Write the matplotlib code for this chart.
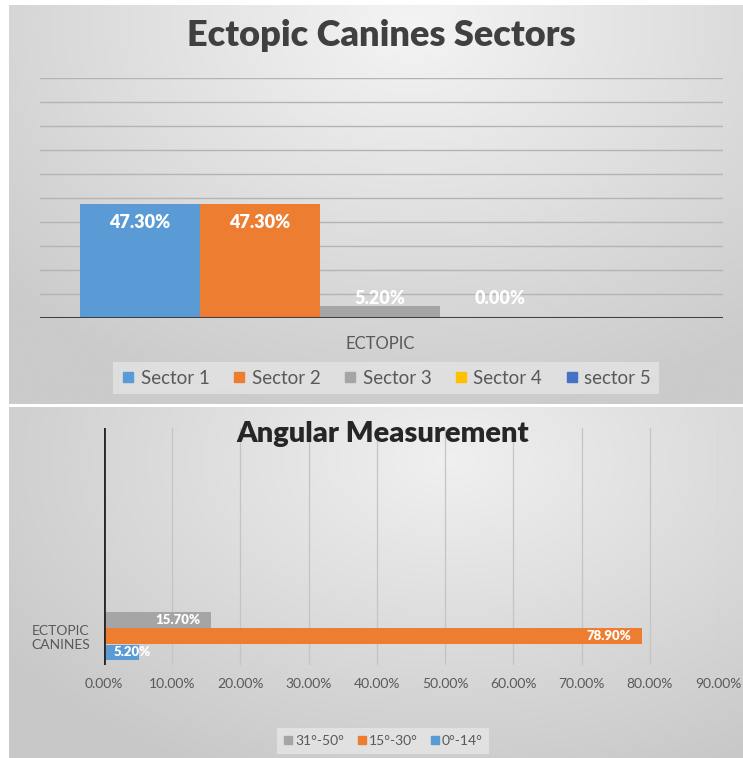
import numpy as np
import matplotlib.pyplot as plt
from matplotlib.lines import Line2D

plt.rcParams['font.family'] = ['Lato', 'DejaVu Sans']

# top chart data
sectors = ["Sector 1", "Sector 2", "Sector 3", "Sector 4", "sector 5"]
sector_values = [47.3, 47.3, 5.2, 0.0, None]
sector_colors = ["#5B9BD5", "#ED7D31", "#A5A5A5", "#FFC000", "#4472C4"]
top_category = "ECTOPIC"

# bottom chart data
angle_groups = ["0°-14°", "15°-30°", "31°-50°"]
angle_values = [5.2, 78.9, 15.7]
angle_colors = ["#5B9BD5", "#ED7D31", "#A5A5A5"]
bottom_category = "ECTOPIC\nCANINES"
x_ticks = [0, 10, 20, 30, 40, 50, 60, 70, 80, 90]

W, H = 743, 758
fig = plt.figure(figsize=(W / 100, H / 100), dpi=100, facecolor="white")


def px(x0, y0, x1, y1):
    # pixel box (top-left origin) -> figure fraction rect
    return [x0 / W, 1 - y1 / H, (x1 - x0) / W, (y1 - y0) / H]


def gradient_panel(rect, cx, cy, light=244, dark=203):
    bg = fig.add_axes(rect, zorder=-10)
    yy, xx = np.mgrid[0:1:200j, 0:1:200j]
    d = np.sqrt(((xx - cx) / 0.75) ** 2 + ((yy - cy) / 1.0) ** 2)
    v = (light - (light - dark) * np.clip(d, 0, 1)) / 255
    bg.imshow(np.dstack([v, v, v]), extent=[0, 1, 0, 1], aspect="auto", origin="upper")
    bg.axis("off")


gradient_panel(px(9, 5, 743, 404), 0.55, 0.05)
gradient_panel(px(9, 407, 743, 758), 0.6, 0.15, light=240, dark=200)

# ---------- top: Ectopic Canines Sectors ----------
ax = fig.add_axes(px(40, 78, 723, 318))
ax.patch.set_alpha(0)
for i, (val, col) in enumerate(zip(sector_values, sector_colors)):
    if val is None:
        continue
    ax.bar(i, val, width=1.0, color=col, zorder=3)
    if val > 20:
        ax.annotate(f"{val:.2f}%", (i, val), xytext=(0, -13), textcoords="offset points",
                    ha="center", va="center", color="white", fontsize=13, fontweight="heavy", zorder=4)
    else:
        ax.annotate(f"{val:.2f}%", (i, 0), xytext=(0, 14), textcoords="offset points",
                    ha="center", va="center", color="white", fontsize=13, fontweight="heavy", zorder=4)
ax.set_xlim(-0.83, 4.85)
ax.set_ylim(0, 100)
ax.set_yticks(np.arange(10, 101, 10))
ax.yaxis.grid(True, color="#b4b4b4", linewidth=1)
ax.set_axisbelow(True)
ax.axhline(0, color="#404040", linewidth=2.2, zorder=5)
ax.set_xticks([2])
ax.set_xticklabels([top_category], fontsize=12, color="#595959")
ax.tick_params(axis="x", length=0, pad=13)
ax.tick_params(axis="y", length=0, labelleft=False)
for s in ax.spines.values():
    s.set_visible(False)

fig.text(381 / W, 1 - 35 / H, "Ectopic Canines Sectors", ha="center", va="center",
         fontsize=26, fontweight="heavy", color="#404040")

handles = [Line2D([], [], marker="s", linestyle="none", markersize=7, color=c) for c in sector_colors]
leg = fig.legend(handles, sectors, loc="center", bbox_to_anchor=(386 / W, 1 - 378 / H), ncol=5,
                 frameon=True, fontsize=13.5, handlelength=0.8, handletextpad=0.25, columnspacing=1.2,
                 borderpad=0.4, fancybox=False)
leg.get_frame().set_facecolor("#e4e4e4")
leg.get_frame().set_edgecolor("none")
for t in leg.get_texts():
    t.set_color("#595959")

# ---------- bottom: Angular Measurement ----------
bx = fig.add_axes(px(104, 428, 718, 665))
bx.patch.set_alpha(0)
for i, (val, col) in enumerate(zip(angle_values, angle_colors)):
    bx.barh(i, val, height=0.96, color=col, zorder=3)
    if val > 10:
        bx.annotate(f"{val:.2f}%", (val, i), xytext=(-8, 0), textcoords="offset points",
                    ha="right", va="center", color="white", fontsize=9.5, fontweight="heavy", zorder=4)
    else:
        bx.annotate(f"{val:.2f}%", (0, i), xytext=(7, 0), textcoords="offset points",
                    ha="left", va="center", color="white", fontsize=9.5, fontweight="heavy", zorder=4)
bx.set_xlim(0, 90)
bx.set_ylim(-0.8, 14)
bx.set_xticks(x_ticks)
bx.set_xticklabels([f"{t:.2f}%" for t in x_ticks], fontsize=10, color="#595959")
bx.xaxis.grid(True, color="#c4c4c4", linewidth=0.9)
bx.set_axisbelow(True)
bx.set_yticks([1])
bx.set_yticklabels([bottom_category], fontsize=10, color="#595959", linespacing=1.15, ha="center")
bx.tick_params(axis="y", length=0, pad=31)
bx.tick_params(axis="x", length=0, pad=9)
for s in bx.spines.values():
    s.set_visible(False)
bx.axvline(0, color="#262626", linewidth=2, zorder=5)

fig.text(383 / W, 1 - 434 / H, "Angular Measurement", ha="center", va="center",
         fontsize=21, fontweight="heavy", color="#262626")

handles2 = [Line2D([], [], marker="s", linestyle="none", markersize=6, color=c) for c in angle_colors[::-1]]
leg2 = fig.legend(handles2, angle_groups[::-1], loc="center", bbox_to_anchor=(383 / W, 1 - 741 / H), ncol=3,
                  frameon=True, fontsize=10, handlelength=0.7, handletextpad=0.15, columnspacing=0.9,
                  borderpad=0.5, fancybox=False)
leg2.get_frame().set_facecolor("#e6e6e6")
leg2.get_frame().set_edgecolor("none")
for t in leg2.get_texts():
    t.set_color("#595959")

fig.savefig("out.png", dpi=100, facecolor="white")
